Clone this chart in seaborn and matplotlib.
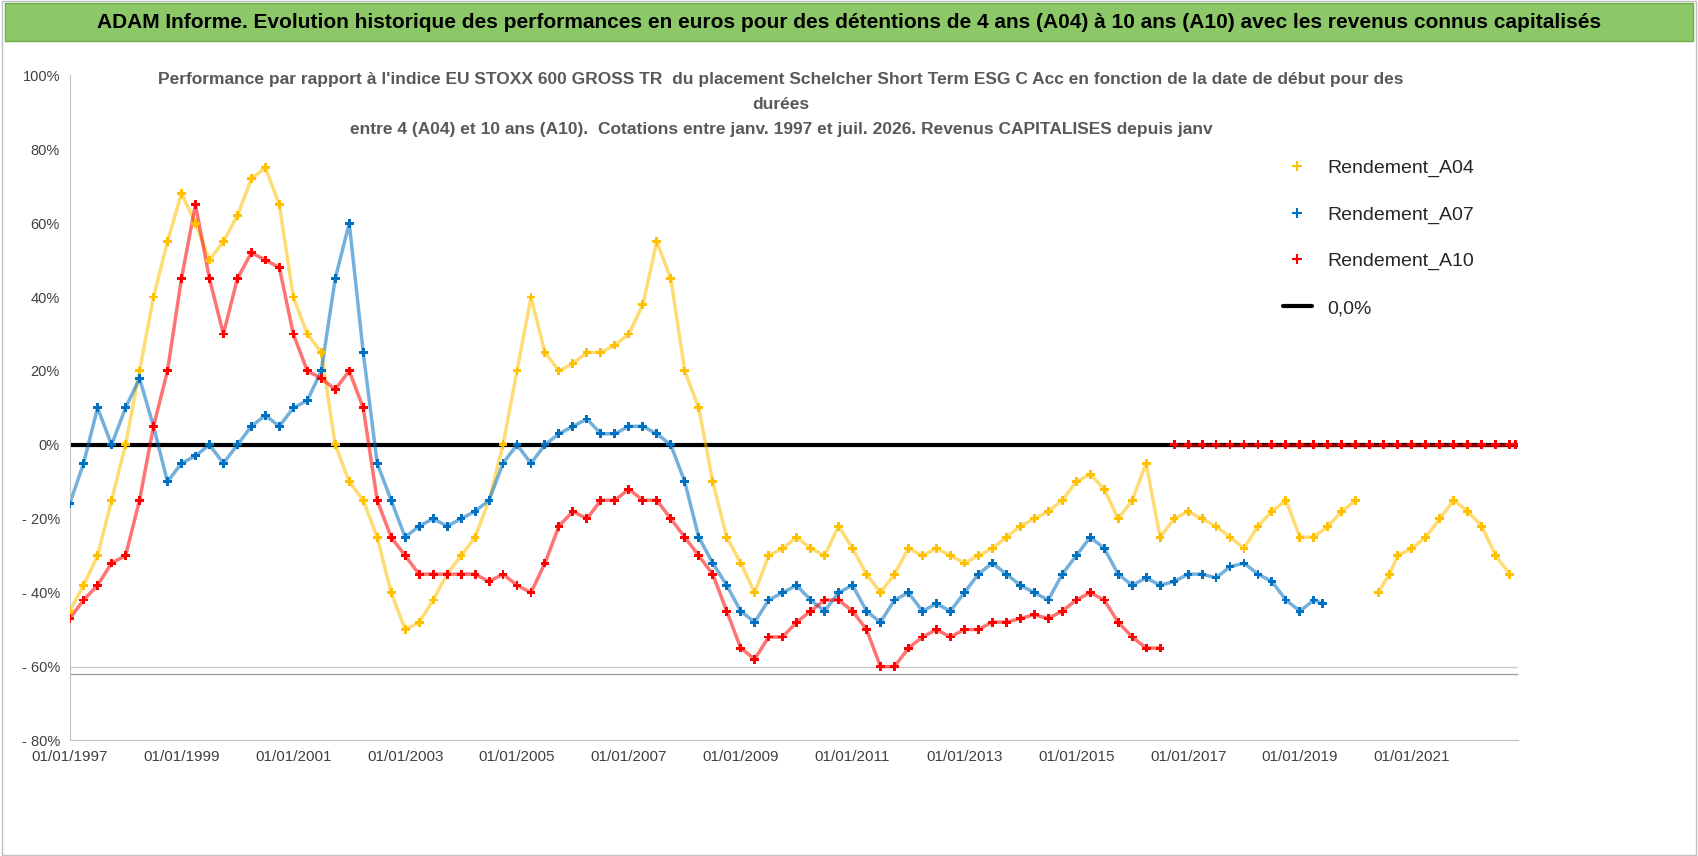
import numpy as np
import pandas as pd
import matplotlib.pyplot as plt
import seaborn as sns

# values (year as decimal, performance in %)
years_a04 = [1997.0, 1997.25, 1997.5, 1997.75, 1998.0, 1998.25, 1998.5, 1998.75, 1999.0, 1999.25, 1999.5, 1999.75,
             2000.0, 2000.25, 2000.5, 2000.75, 2001.0, 2001.25, 2001.5, 2001.75, 2002.0, 2002.25, 2002.5, 2002.75,
             2003.0, 2003.25, 2003.5, 2003.75, 2004.0, 2004.25, 2004.5, 2004.75, 2005.0, 2005.25, 2005.5, 2005.75,
             2006.0, 2006.25, 2006.5, 2006.75, 2007.0, 2007.25, 2007.5, 2007.75, 2008.0, 2008.25, 2008.5, 2008.75,
             2009.0, 2009.25, 2009.5, 2009.75, 2010.0, 2010.25, 2010.5, 2010.75, 2011.0, 2011.25, 2011.5, 2011.75,
             2012.0, 2012.25, 2012.5, 2012.75, 2013.0, 2013.25, 2013.5, 2013.75, 2014.0, 2014.25, 2014.5, 2014.75,
             2015.0, 2015.25, 2015.5, 2015.75, 2016.0, 2016.25, 2016.5, 2016.75, 2017.0, 2017.25, 2017.5, 2017.75,
             2018.0, 2018.25, 2018.5, 2018.75, 2019.0, 2019.25, 2019.5, 2019.75, 2020.0,
             2020.4, 2020.6, 2020.75, 2021.0, 2021.25, 2021.5, 2021.75, 2022.0, 2022.25, 2022.5, 2022.75]
perf_a04 = [-45, -38, -30, -15, 0, 20, 40, 55, 68, 60, 50, 55,
            62, 72, 75, 65, 40, 30, 25, 0, -10, -15, -25, -40,
            -50, -48, -42, -35, -30, -25, -15, 0, 20, 40, 25, 20,
            22, 25, 25, 27, 30, 38, 55, 45, 20, 10, -10, -25,
            -32, -40, -30, -28, -25, -28, -30, -22, -28, -35, -40, -35,
            -28, -30, -28, -30, -32, -30, -28, -25, -22, -20, -18, -15,
            -10, -8, -12, -20, -15, -5, -25, -20, -18, -20, -22, -25,
            -28, -22, -18, -15, -25, -25, -22, -18, -15,
            -40, -35, -30, -28, -25, -20, -15, -18, -22, -30, -35]

years_a07 = [1997.0, 1997.25, 1997.5, 1997.75, 1998.0, 1998.25, 1998.5, 1998.75, 1999.0, 1999.25, 1999.5, 1999.75,
             2000.0, 2000.25, 2000.5, 2000.75, 2001.0, 2001.25, 2001.5, 2001.75, 2002.0, 2002.25, 2002.5, 2002.75,
             2003.0, 2003.25, 2003.5, 2003.75, 2004.0, 2004.25, 2004.5, 2004.75, 2005.0, 2005.25, 2005.5, 2005.75,
             2006.0, 2006.25, 2006.5, 2006.75, 2007.0, 2007.25, 2007.5, 2007.75, 2008.0, 2008.25, 2008.5, 2008.75,
             2009.0, 2009.25, 2009.5, 2009.75, 2010.0, 2010.25, 2010.5, 2010.75, 2011.0, 2011.25, 2011.5, 2011.75,
             2012.0, 2012.25, 2012.5, 2012.75, 2013.0, 2013.25, 2013.5, 2013.75, 2014.0, 2014.25, 2014.5, 2014.75,
             2015.0, 2015.25, 2015.5, 2015.75, 2016.0, 2016.25, 2016.5, 2016.75, 2017.0, 2017.25, 2017.5, 2017.75,
             2018.0, 2018.25, 2018.5, 2018.75, 2019.0, 2019.25, 2019.4]
perf_a07 = [-16, -5, 10, 0, 10, 18, 5, -10, -5, -3, 0, -5,
            0, 5, 8, 5, 10, 12, 20, 45, 60, 25, -5, -15,
            -25, -22, -20, -22, -20, -18, -15, -5, 0, -5, 0, 3,
            5, 7, 3, 3, 5, 5, 3, 0, -10, -25, -32, -38,
            -45, -48, -42, -40, -38, -42, -45, -40, -38, -45, -48, -42,
            -40, -45, -43, -45, -40, -35, -32, -35, -38, -40, -42, -35,
            -30, -25, -28, -35, -38, -36, -38, -37, -35, -35, -36, -33,
            -32, -35, -37, -42, -45, -42, -43]

years_a10 = [1997.0, 1997.25, 1997.5, 1997.75, 1998.0, 1998.25, 1998.5, 1998.75, 1999.0, 1999.25, 1999.5, 1999.75,
             2000.0, 2000.25, 2000.5, 2000.75, 2001.0, 2001.25, 2001.5, 2001.75, 2002.0, 2002.25, 2002.5, 2002.75,
             2003.0, 2003.25, 2003.5, 2003.75, 2004.0, 2004.25, 2004.5, 2004.75, 2005.0, 2005.25, 2005.5, 2005.75,
             2006.0, 2006.25, 2006.5, 2006.75, 2007.0, 2007.25, 2007.5, 2007.75, 2008.0, 2008.25, 2008.5, 2008.75,
             2009.0, 2009.25, 2009.5, 2009.75, 2010.0, 2010.25, 2010.5, 2010.75, 2011.0, 2011.25, 2011.5, 2011.75,
             2012.0, 2012.25, 2012.5, 2012.75, 2013.0, 2013.25, 2013.5, 2013.75, 2014.0, 2014.25, 2014.5, 2014.75,
             2015.0, 2015.25, 2015.5, 2015.75, 2016.0, 2016.25, 2016.5]
perf_a10 = [-47, -42, -38, -32, -30, -15, 5, 20, 45, 65, 45, 30,
            45, 52, 50, 48, 30, 20, 18, 15, 20, 10, -15, -25,
            -30, -35, -35, -35, -35, -35, -37, -35, -38, -40, -32, -22,
            -18, -20, -15, -15, -12, -15, -15, -20, -25, -30, -35, -45,
            -55, -58, -52, -52, -48, -45, -42, -42, -45, -50, -60, -60,
            -55, -52, -50, -52, -50, -50, -48, -48, -47, -46, -47, -45,
            -42, -40, -42, -48, -52, -55, -55]
# A10 start dates after mid-2016: no full 10-year history, plotted at 0
years_a10_flat = [2016.75, 2017.0, 2017.25, 2017.5, 2017.75, 2018.0, 2018.25, 2018.5, 2018.75, 2019.0, 2019.25,
                  2019.5, 2019.75, 2020.0, 2020.25, 2020.5, 2020.75, 2021.0, 2021.25, 2021.5, 2021.75, 2022.0,
                  2022.25, 2022.5, 2022.75, 2022.85]
perf_a10_flat = [0, 0, 0, 0, 0, 0, 0, 0, 0, 0, 0, 0, 0, 0, 0, 0, 0, 0, 0, 0, 0, 0, 0, 0, 0, 0]

tick_years = [1997, 1999, 2001, 2003, 2005, 2007, 2009, 2011, 2013, 2015, 2017, 2019, 2021]

colors = {"Rendement_A04": "#FFC000", "Rendement_A07": "#0070C0", "Rendement_A10": "#FF0000"}

df = pd.concat([
    pd.DataFrame({"year": years_a04, "perf": perf_a04, "serie": "Rendement_A04", "part": 0}),
    pd.DataFrame({"year": years_a07, "perf": perf_a07, "serie": "Rendement_A07", "part": 0}),
    pd.DataFrame({"year": years_a10, "perf": perf_a10, "serie": "Rendement_A10", "part": 0}),
    pd.DataFrame({"year": years_a10_flat, "perf": perf_a10_flat, "serie": "Rendement_A10", "part": 1}),
])

sns.set_style("white")
plt.rcParams['font.family'] = ['Liberation Sans', 'DejaVu Sans']

fig = plt.figure(figsize=(16.98, 8.56), dpi=100)
ax = fig.add_axes([0.041, 0.135, 0.853, 0.777])

# draw each series, split where there is a gap (A04 in 2020, A10 flat part)
for (name, p), grp in df.groupby(["serie", "part"]):
    seg = (grp["year"].diff() > 0.3).cumsum()
    for _, piece in grp.groupby(seg):
        ax.plot(piece["year"], piece["perf"], color=colors[name], lw=2.5, alpha=0.55, zorder=2)
sns.scatterplot(data=df, x="year", y="perf", hue="serie", palette=colors, marker="P", s=40,
                linewidth=0, ax=ax, zorder=3, legend=False)
ax.axhline(0, color="black", lw=3, zorder=1)
ax.axhline(-62, color="#A0A0A0", lw=1, zorder=0)
ax.axhline(-60, color="#C8C8C8", lw=1, zorder=0)

ax.set_xlim(1997, 2022.9)
ax.set_ylim(-80, 100)
ax.set_xticks(tick_years)
ax.set_xticklabels([f"01/01/{y}" for y in tick_years], fontsize=11, color="#404040")
ax.set_yticks(range(-80, 101, 20))
ax.set_yticklabels([f"{v}%" if v >= 0 else f"- {abs(v)}%" for v in range(-80, 101, 20)], fontsize=10.5, color="#404040")
ax.set_xlabel("")
ax.set_ylabel("")
for side in ["top", "right"]:
    ax.spines[side].set_visible(False)
ax.spines["left"].set_color("#BFBFBF")
ax.spines["bottom"].set_color("#BFBFBF")

# legend
handles = [plt.Line2D([], [], ls="", marker="+", color=colors[k], markersize=7, mew=1.5) for k in colors]
handles.append(plt.Line2D([], [], color="black", lw=3))
fig.legend(handles, list(colors) + ["0,0%"], loc="upper left", bbox_to_anchor=(0.745, 0.835),
           frameon=False, fontsize=14, labelspacing=1.5, handlelength=1.5)

# header band
fig.patches.append(plt.Rectangle((0.003, 0.952), 0.994, 0.045, transform=fig.transFigure,
                                 facecolor="#8CC868", edgecolor="#70AD47"))
fig.text(0.5, 0.974, "ADAM Informe. Evolution historique des performances en euros pour des détentions de 4 ans (A04) "
         "à 10 ans (A10) avec les revenus connus capitalisés", ha="center", va="center",
         fontsize=15, fontweight="bold", color="black")
fig.text(0.46, 0.878, "Performance par rapport à l'indice EU STOXX 600 GROSS TR  du placement Schelcher Short Term ESG C Acc "
         "en fonction de la date de début pour des\ndurées\nentre 4 (A04) et 10 ans (A10).  Cotations entre janv. 1997 "
         "et juil. 2026. Revenus CAPITALISES depuis janv", ha="center", va="center", fontsize=12.5,
         fontweight="bold", color="#595959", linespacing=1.8)
fig.patches.append(plt.Rectangle((0.001, 0.001), 0.998, 0.998, transform=fig.transFigure,
                                 facecolor="none", edgecolor="#BFBFBF", lw=1))

fig.savefig("out.png", dpi=100)
